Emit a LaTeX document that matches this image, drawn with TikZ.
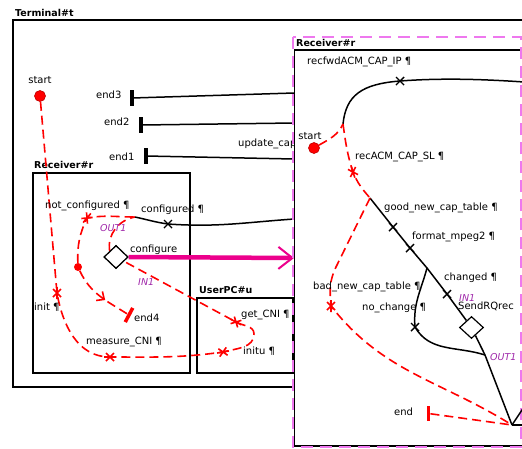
\documentclass[tikz,border=0pt]{standalone}
\usepackage{fontspec}
\setmainfont{DejaVu Sans}
\usetikzlibrary{arrows.meta, shapes.geometric, decorations.markings}

\definecolor{pinkdash}{RGB}{238,120,238}
\definecolor{portcol}{RGB}{160,40,170}

\begin{document}
\begin{tikzpicture}[x=1pt, y=-1pt, >=Stealth,
    box/.style={draw, line width=1.6pt},
    title/.style={anchor=west, inner sep=0pt, font=\bfseries\fontsize{9.5}{11}\selectfont},
    lbl/.style={anchor=west, inner sep=0pt, font=\fontsize{10}{12}\selectfont},
    port/.style={anchor=west, inner sep=0pt, text=portcol, font=\itshape\fontsize{9.5}{11}\selectfont},
    trans/.style={line width=1.5pt},
    redtrans/.style={red, line width=1.6pt, dash pattern=on 9pt off 5pt},
    startdot/.style={circle, fill=red, draw=red!75!black, line width=0.6pt, minimum size=11pt, inner sep=0pt},
    enddash/.style={fill, inner sep=0pt, minimum width=4pt, minimum height=16pt},
    choice/.style={diamond, draw, fill=white, line width=1.2pt, inner sep=0pt, minimum width=24pt, minimum height=23pt},
    blackx/.pic={\draw[line width=1.4pt] (-4,-4) -- (4,4) (-4,4) -- (4,-4);},
    redx/.pic={\draw[red, line width=1.6pt] (-4,-4) -- (4,4) (-4,4) -- (4,-4) (-6,0) -- (6,0);}
]
\useasboundingbox (0,0) rectangle (522,448);

    % 1. Terminal frame and the inner frames
    \node[title] (tTerm) at (15,12.5) {Terminal\#t};
    \draw[box] (13,20) rectangle (600,387);
    \node[title] (tRecL) at (34,165) {Receiver\#r};
    \draw[box] (33,173) rectangle (190,373);
    \node[title] (tUser) at (199,290) {UserPC\#u};
    \draw[box] (197,298) rectangle (293,373);

    % 2. End states of the Terminal, wired to the right Receiver
    \node[enddash] (end3) at (132,98) {};
    \node[enddash] (end2) at (141,125) {};
    \node[enddash] (end1) at (146,156) {};
    \node[lbl] (lEnd3) at (96,95) {end3};
    \node[lbl] (lEnd2) at (104,122) {end2};
    \node[lbl] (lEnd1) at (109,157) {end1};
    \coordinate (in3) at (294,93);
    \coordinate (in2) at (294,123);
    \coordinate (in1) at (294,159);
    \draw[trans] (end3) -- (in3);
    \draw[trans] (end2) -- (in2);
    \draw[trans] (end1) -- (in1);
    \node[lbl] (lUpd) at (238,144) {update\_cap};

    % 3. Start of the Terminal
    \node[lbl, anchor=center] (lStartT) at (40,80) {start};
    \node[startdot] (startT) at (40,96) {};

    % 4. Left Receiver: choice point and its transitions
    \node[choice] (cfg) at (116,257) {};
    \node[circle, fill=red, inner sep=0pt, minimum size=8pt] (inDot) at (78,267) {};
    \node[enddash, red, minimum width=3.5pt, minimum height=16pt, rotate=-28] (end4) at (129,315) {};

    \coordinate (mInit) at (57,293);    % init
    \coordinate (mMeas) at (110,357);   % measure_CNI
    \coordinate (mInitu) at (223,352);  % initu
    \coordinate (uTurn) at (254,334);
    \coordinate (mGet) at (236,322);    % get_CNI
    \coordinate (mNot) at (87,218);     % not_configured
    \coordinate (jCfg) at (135,217);
    \coordinate (mConf) at (168,224);   % configured
    \coordinate (cfgR) at (294,219);
    \coordinate (cfgIn) at (294,258);

    \draw[redtrans] (startT) to[out=-85,in=95] (mInit) to[out=-80,in=180] (mMeas)
        to[out=0,in=188] (mInitu) to[out=15,in=-90] (uTurn) to[out=90,in=-30] (mGet) -- (cfg);
    \draw[redtrans] (cfg.north west) to[out=100,in=190] (jCfg);
    \draw[redtrans] (inDot) to[out=92,in=-115] (mNot) to[out=10,in=180] (jCfg);
    \draw[redtrans, postaction={decorate}, decoration={markings,
        mark=at position 0.6 with {\arrow[red]{Straight Barb[length=6pt,width=11pt,line width=1.6pt]}}}]
        (inDot) to[out=-65,in=150] (end4);
    \draw[trans] (jCfg) to[out=-12,in=172] (mConf) to[out=-4,in=184] (cfgR);
    \draw[magenta, line width=4.5pt, -{Straight Barb[length=14pt,width=22pt,line width=2pt]}] (cfg.east) -- (cfgIn);
    \node[choice] (cfg2) at (cfg) {};

    \pic[rotate=90] at (mInit) {redx};
    \pic at (mMeas) {redx};
    \pic[rotate=10] at (mInitu) {redx};
    \pic[rotate=-28] at (mGet) {redx};
    \pic[rotate=50] at (mNot) {redx};
    \pic at (mConf) {blackx};

    \node[lbl] (lNotCfg) at (45,206) {not\_configured ¶};
    \node[lbl] (lCfgd) at (141,210) {configured ¶};
    \node[port] (lOutL) at (100,228) {OUT1};
    \node[lbl] (lCfg) at (130,250) {configure};
    \node[port] (lInL) at (138,282) {IN1};
    \node[lbl] (lEnd4) at (134,318) {end4};
    \node[lbl] (lInit) at (34,307) {init ¶};
    \node[lbl] (lMeas) at (86,342) {measure\_CNI ¶};
    \node[lbl] (lGet) at (241,315) {get\_CNI ¶};
    \node[lbl] (lInitu) at (243,351) {initu ¶};

    % 5. Right Receiver, drawn over the Terminal frame
    \draw[box, fill=white] (294.5,50) rectangle (600,446);
    \draw[pinkdash, line width=2pt, dash pattern=on 12pt off 7pt] (292.5,37) rectangle (520.5,447);
    \node[title] (tRecR) at (296,43) {Receiver\#r};
    \node[lbl] (lIP) at (307,62) {recfwdACM\_CAP\_IP ¶};

    \node[lbl, anchor=center] (lStartR) at (310,136) {start};
    \node[startdot] (startR) at (314,148) {};
    \node[choice, minimum height=22pt] (sendRQ) at (471.5,327.5) {};
    \node[enddash, red, minimum width=3.5pt, minimum height=15pt] (endR) at (428.5,413.5) {};

    \coordinate (J) at (343,124);
    \coordinate (mIP) at (400,81);      % recfwdACM_CAP_IP
    \coordinate (eIP) at (524,82);
    \coordinate (mSL) at (353,172);     % recACM_CAP_SL
    \coordinate (K) at (370,198);
    \coordinate (mGood) at (393,227);   % good_new_cap_table
    \coordinate (mFmt) at (410,248);    % format_mpeg2
    \coordinate (L) at (427,268);
    \coordinate (mChg) at (447,294);    % changed
    \coordinate (M) at (485,355);
    \coordinate (N) at (512,425);
    \coordinate (mNo) at (415,327);     % no_change
    \coordinate (bBend) at (336,267);
    \coordinate (mBad) at (331,306);    % bad_new_cap_table
    \coordinate (nE) at (524,425);
    \coordinate (nNE) at (524,407);

    \draw[trans] (J) .. controls (346,95) and (362,84) .. (mIP) .. controls (440,78) and (480,79) .. (eIP);
    \draw[trans] (K) -- (mGood) -- (mFmt) -- (L) -- (mChg) -- (sendRQ);
    \draw[trans] (sendRQ) -- (M) -- (N);
    \draw[trans] (L) to[out=-105,in=95] (mNo) to[out=-60,in=162] (M);
    \draw[trans] (N) -- (nE);
    \draw[trans] (N) -- (nNE);
    \draw[redtrans] (startR) to[out=30,in=-115] (J);
    \draw[redtrans] (J) to[out=-82,in=108] (mSL) to[out=-68,in=131] (K);
    \draw[redtrans] (K) -- (bBend) to[out=-116,in=95] (mBad) to[out=-52,in=148] (N);
    \draw[redtrans] (endR) -- (N);

    \pic at (mIP) {blackx};
    \pic at (mGood) {blackx};
    \pic at (mFmt) {blackx};
    \pic at (mChg) {blackx};
    \pic at (mNo) {blackx};
    \pic[rotate=-72] at (mSL) {redx};
    \pic[rotate=90] at (mBad) {redx};

    \node[lbl] (lSL) at (355,157) {recACM\_CAP\_SL ¶};
    \node[lbl] (lGood) at (384,208) {good\_new\_cap\_table ¶};
    \node[lbl] (lFmt) at (412,237) {format\_mpeg2 ¶};
    \node[lbl] (lChg) at (444,278) {changed ¶};
    \node[port] (lInR) at (459,298) {IN1};
    \node[lbl] (lSend) at (458,306) {SendRQrec};
    \node[lbl] (lBad) at (313,287) {bad\_new\_cap\_table ¶};
    \node[lbl] (lNo) at (362,308) {no\_change ¶};
    \node[port] (lOutR) at (490,357) {OUT1};
    \node[lbl] (lEndR) at (394,412) {end};

\end{tikzpicture}
\end{document}
